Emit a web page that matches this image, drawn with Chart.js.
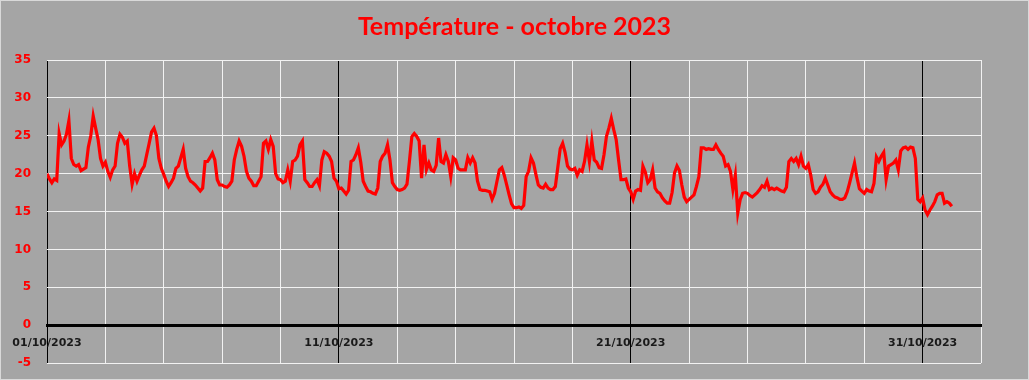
<!DOCTYPE html>
<html>
<head>
<meta charset="utf-8">
<script src="https://cdn.jsdelivr.net/npm/chart.js@4.4.0/dist/chart.umd.min.js"></script>
<style>
  body { margin: 0; background: #a5a5a5; }
  canvas { display: block; }
</style>
</head>
<body>
<canvas id="tempchart" width="1029" height="380"></canvas>
<script>
// relevés toutes les 2 heures, du 01/10 00h au 01/11 00h
var temps = [
  20.0, 19.3, 18.8, 19.3, 19.1, 25.3, 23.8, 24.3, 25.2, 27.0, 22.0, 21.2, // 01/10
  21.0, 21.2, 20.4, 20.6, 20.8, 23.5, 25.0, 27.6, 26.0, 24.5, 22.0, 21.0, // 02/10
  21.5, 20.3, 19.5, 20.5, 21.0, 24.0, 25.2, 24.8, 24.0, 24.3, 21.0, 18.6, // 03/10
  20.0, 19.0, 19.8, 20.5, 21.0, 22.5, 24.0, 25.5, 26.0, 25.0, 22.0, 20.7, // 04/10
  19.9, 19.0, 18.3, 18.8, 19.4, 20.7, 21.0, 22.1, 23.2, 20.7, 19.6, 19.0, // 05/10
  18.8, 18.5, 18.1, 17.7, 18.1, 21.6, 21.6, 22.1, 22.7, 21.8, 19.2, 18.5, // 06/10
  18.5, 18.3, 18.2, 18.5, 19.0, 21.8, 23.2, 24.3, 23.6, 22.3, 20.3, 19.4, // 07/10
  19.0, 18.4, 18.4, 19.0, 19.6, 24.0, 24.3, 23.2, 24.5, 23.6, 20.0, 19.3, // 08/10
  19.2, 18.8, 19.0, 20.5, 19.0, 21.6, 21.8, 22.3, 23.8, 24.3, 19.2, 18.8, // 09/10
  18.3, 18.3, 18.8, 19.2, 18.4, 21.8, 22.9, 22.7, 22.3, 21.6, 19.4, 19.0, // 10/10
  18.0, 18.1, 17.7, 17.3, 17.8, 21.6, 21.8, 22.5, 23.4, 21.5, 19.0, 18.3, // 11/10
  17.7, 17.6, 17.4, 17.3, 18.1, 21.6, 22.3, 22.7, 23.8, 21.8, 18.8, 18.3, // 12/10
  17.9, 17.8, 17.9, 18.1, 18.6, 21.6, 24.9, 25.3, 24.9, 24.3, 19.4, 23.8, // 13/10
  20.5, 21.4, 20.5, 20.3, 21.1, 24.7, 21.6, 21.4, 22.5, 21.6, 19.6, 22.1, // 14/10
  21.8, 20.7, 20.5, 20.5, 20.5, 22.1, 21.4, 22.1, 21.4, 19.0, 17.9, 17.8, // 15/10
  17.8, 17.7, 17.6, 16.6, 17.4, 19.0, 20.5, 20.8, 19.8, 18.5, 17.2, 16.0, // 16/10
  15.5, 15.5, 15.6, 15.4, 15.8, 19.6, 20.3, 22.1, 21.4, 19.9, 18.5, 18.2, // 17/10
  18.1, 18.6, 18.1, 17.9, 17.9, 18.3, 20.8, 23.3, 24.0, 22.8, 21.0, 20.6, // 18/10
  20.5, 20.7, 19.8, 20.5, 20.3, 21.6, 23.8, 21.6, 24.3, 21.8, 21.5, 20.8, // 19/10
  20.7, 22.5, 24.9, 26.0, 27.3, 25.8, 24.5, 21.8, 19.2, 19.2, 19.3, 18.1, // 20/10
  17.6, 16.6, 17.7, 17.9, 17.8, 21.0, 20.2, 18.8, 19.2, 20.5, 18.1, 17.6, // 21/10
  17.4, 16.8, 16.4, 16.1, 16.1, 17.5, 20.1, 21.0, 20.4, 18.5, 16.9, 16.3, // 22/10
  16.6, 16.9, 17.2, 18.3, 19.6, 23.4, 23.4, 23.2, 23.3, 23.2, 23.2, 23.8, // 23/10
  23.2, 22.7, 22.3, 21.0, 21.2, 20.3, 17.9, 19.8, 14.8, 16.6, 17.4, 17.5, // 24/10
  17.4, 17.1, 16.9, 17.2, 17.5, 17.9, 18.4, 18.2, 19.0, 17.9, 18.1, 17.9, // 25/10
  18.1, 17.9, 17.7, 17.6, 18.2, 21.6, 22.0, 21.6, 22.0, 21.2, 22.3, 21.0, // 26/10
  20.7, 21.2, 19.8, 17.9, 17.4, 17.6, 18.2, 18.6, 19.4, 18.5, 17.6, 17.2, // 27/10
  16.9, 16.8, 16.6, 16.6, 16.8, 17.6, 18.8, 20.1, 21.4, 19.5, 18.0, 17.7, // 28/10
  17.4, 17.9, 17.7, 17.6, 18.7, 22.2, 21.6, 22.3, 22.8, 19.2, 21.0, 21.2, // 29/10
  21.4, 21.8, 20.5, 23.0, 23.4, 23.5, 23.2, 23.5, 23.4, 22.0, 16.6, 16.3, // 30/10
  16.8, 15.2, 14.6, 15.2, 15.7, 16.3, 17.2, 17.4, 17.4, 16.1, 16.3, 16.1, // 31/10
  15.7
];
var stepHours = 2;

var labelDays = [0, 10, 20, 30];
var labelTexts = ['01/10/2023', '11/10/2023', '21/10/2023', '31/10/2023'];

var yMin = -5, yMax = 35, yStep = 5;

var points = temps.map(function (t, i) {
  return { x: i * stepHours / 24, y: t };
});

// fond gris + cadre
var bgPlugin = {
  id: 'bg',
  beforeDraw: function (chart) {
    var ctx = chart.ctx;
    ctx.save();
    ctx.fillStyle = '#a5a5a5';
    ctx.fillRect(0, 0, chart.width, chart.height);
    ctx.strokeStyle = '#d9d9d9';
    ctx.lineWidth = 1;
    ctx.strokeRect(0.5, 0.5, chart.width - 1, chart.height - 1);
    ctx.restore();
  }
};

new Chart(document.getElementById('tempchart'), {
  type: 'line',
  data: {
    datasets: [{
      data: points,
      borderColor: '#ff0000',
      borderWidth: 3.2,
      pointRadius: 0,
      tension: 0,
      fill: false
    }]
  },
  options: {
    responsive: false,
    animation: false,
    layout: { padding: { left: 0, right: 0, top: 0, bottom: 17 } },
    plugins: {
      legend: { display: false },
      tooltip: { enabled: false },
      title: {
        display: true,
        text: 'Température - octobre 2023',
        color: '#ff0000',
        font: { family: 'Lato', size: 25, weight: 'bold', lineHeight: 1.2 },
        padding: { top: 12, bottom: 18 }
      }
    },
    scales: {
      x: {
        type: 'linear',
        position: { y: 0 },
        min: 0,
        max: 32,
        ticks: {
          stepSize: 2,
          autoSkip: false,
          maxRotation: 0,
          padding: 11,
          color: '#1a1a1a',
          font: { family: 'DejaVu Sans', size: 11, weight: 'bold' },
          callback: function (value) {
            var k = labelDays.indexOf(value);
            return k >= 0 ? labelTexts[k] : '';
          }
        },
        grid: {
          drawTicks: false,
          lineWidth: 1,
          color: function (ctx) {
            return ctx.tick && ctx.tick.value % 10 === 0 ? '#000000' : '#f2f2f2';
          }
        },
        border: { color: '#000000', width: 3 },
        afterFit: function (scale) { scale.height = 0; }
      },
      y: {
        min: yMin,
        max: yMax,
        ticks: {
          stepSize: yStep,
          padding: 16,
          color: '#ff0000',
          font: { family: 'DejaVu Sans', size: 12, weight: 'bold' }
        },
        grid: {
          drawTicks: false,
          lineWidth: 1,
          color: function (ctx) {
            return ctx.tick && ctx.tick.value === 0 ? '#000000' : '#f2f2f2';
          }
        },
        border: { display: false },
        afterFit: function (scale) {
          scale.width = 47;
          scale.paddingTop = 0;
          scale.paddingBottom = 0;
        }
      },
      // marge droite vide
      yRight: {
        position: 'right',
        min: yMin,
        max: yMax,
        grid: { display: false },
        ticks: { display: false },
        border: { display: false },
        afterFit: function (scale) { scale.width = 48; }
      }
    }
  },
  plugins: [bgPlugin]
});
</script>
</body>
</html>
